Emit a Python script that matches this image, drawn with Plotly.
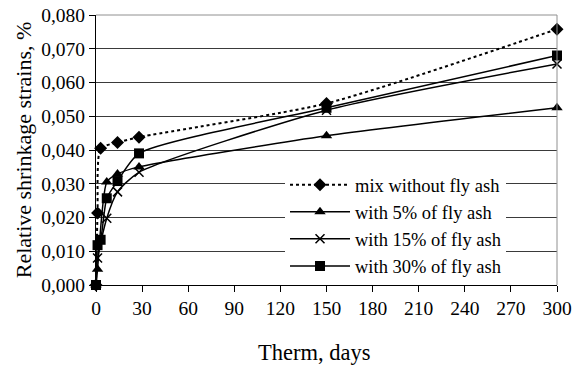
import plotly.graph_objects as go

days_s1 = [0, 1, 3, 14, 28, 150, 300]
s1 = [0.0, 0.0213, 0.0405, 0.0422, 0.0438, 0.0538, 0.0758]

days_s2 = [0, 1, 7, 14, 28, 150, 300]
s2 = [0.0, 0.0047, 0.0305, 0.0329, 0.0350, 0.0442, 0.0525]

days_s3 = [0, 1, 7, 14, 28, 150, 300]
s3 = [0.0, 0.0080, 0.0198, 0.0276, 0.0334, 0.0518, 0.0655]

days_s4 = [0, 1, 3, 7, 14, 28, 150, 300]
s4 = [0.0, 0.0118, 0.0134, 0.0257, 0.0308, 0.0390, 0.0525, 0.0680]

names = ["mix without fly ash", "with 5% of fly ash", "with 15% of fly ash", "with 30% of fly ash"]
x_ticks = list(range(0, 301, 30))
y_ticks = [i / 100 for i in range(0, 9)]

fig = go.Figure()
fig.add_trace(go.Scatter(x=days_s1, y=s1, name=names[0], mode="lines+markers",
                         line=dict(color="black", width=2, dash="dot", shape="spline", smoothing=0.6),
                         marker=dict(symbol="diamond", size=10, color="black"), cliponaxis=False))
fig.add_trace(go.Scatter(x=days_s2, y=s2, name=names[1], mode="lines+markers",
                         line=dict(color="black", width=1.5, shape="spline", smoothing=0.6),
                         marker=dict(symbol="triangle-up", size=10, color="black"), cliponaxis=False))
fig.add_trace(go.Scatter(x=days_s3, y=s3, name=names[2], mode="lines+markers",
                         line=dict(color="black", width=1.5, shape="spline", smoothing=0.6),
                         marker=dict(symbol="x-thin", size=9, color="black",
                                     line=dict(color="black", width=1.5)), cliponaxis=False))
fig.add_trace(go.Scatter(x=days_s4, y=s4, name=names[3], mode="lines+markers",
                         line=dict(color="black", width=1.5, shape="spline", smoothing=0.6),
                         marker=dict(symbol="square", size=10, color="black"), cliponaxis=False))

font = "Liberation Serif, Times New Roman, serif"
fig.update_layout(
    width=574, height=370,
    margin=dict(l=96, r=17, t=15, b=85),
    paper_bgcolor="white", plot_bgcolor="white",
    separators=", ",
    font=dict(family=font, color="black", size=19),
    showlegend=True,
    legend=dict(x=0.41, y=0.44, xanchor="left", yanchor="top",
                bgcolor="white", borderwidth=0, itemwidth=60,
                font=dict(family=font, size=18.5, color="black"),
                tracegroupgap=0),
    xaxis=dict(range=[0, 300], tickvals=x_ticks, ticks="outside", ticklen=6,
               tickcolor="black", showline=True, linecolor="black", linewidth=1,
               showgrid=False, zeroline=False, automargin=False,
               tickfont=dict(family=font, size=19.5)),
    yaxis=dict(range=[0, 0.08], tickvals=y_ticks, tickformat=".3f", ticks="outside",
               ticklen=6, tickcolor="black", showline=True, linecolor="black", linewidth=1,
               showgrid=True, gridcolor="#3a3a3a", gridwidth=1, zeroline=False, automargin=False,
               tickfont=dict(family=font, size=19.5),
               title=dict(text="Relative shrinkage strains, %", font=dict(family=font, size=22), standoff=3)),
    annotations=[dict(text="Therm, days", xref="paper", yref="paper", x=0.473, y=-0.25,
                      xanchor="center", yanchor="middle", showarrow=False,
                      font=dict(family=font, size=22.5, color="black"))],
    shapes=[dict(type="line", xref="paper", yref="paper", x0=0, x1=1, y0=1, y1=1,
                 line=dict(color="#909090", width=1)),
            dict(type="line", xref="paper", yref="paper", x0=1, x1=1, y0=0, y1=1,
                 line=dict(color="#909090", width=1))],
)

fig.write_html("out.html")
